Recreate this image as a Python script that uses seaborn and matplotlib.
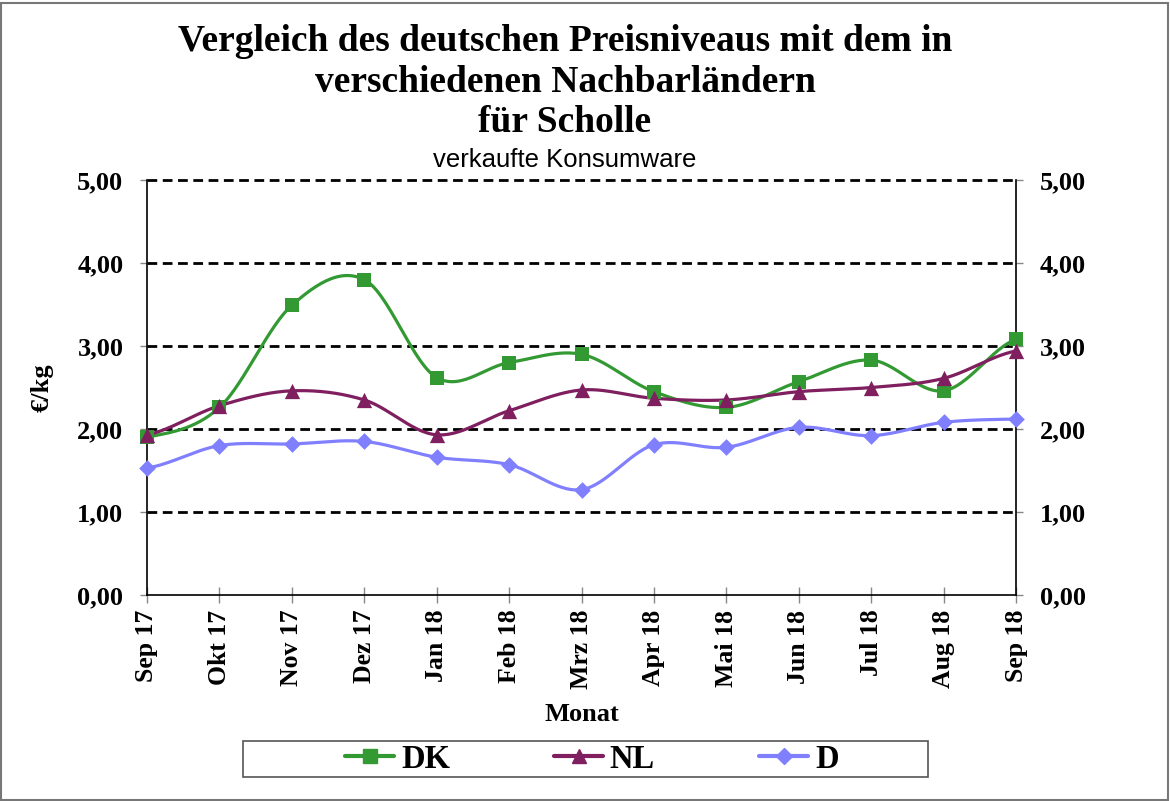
import numpy as np
import pandas as pd
import matplotlib
matplotlib.use("Agg")
import matplotlib.pyplot as plt
from matplotlib.patches import Rectangle
from matplotlib.lines import Line2D
import seaborn as sns

months = ["Sep 17", "Okt 17", "Nov 17", "Dez 17", "Jan 18", "Feb 18", "Mrz 18",
          "Apr 18", "Mai 18", "Jun 18", "Jul 18", "Aug 18", "Sep 18"]
dk = [1.90, 2.26, 3.49, 3.80, 2.62, 2.80, 2.90, 2.45, 2.26, 2.57, 2.83, 2.46, 3.08]
nl = [1.93, 2.28, 2.46, 2.35, 1.93, 2.22, 2.47, 2.37, 2.35, 2.45, 2.50, 2.61, 2.94]
d = [1.53, 1.80, 1.82, 1.85, 1.66, 1.57, 1.27, 1.81, 1.78, 2.02, 1.92, 2.08, 2.12]
yticks = [0, 1, 2, 3, 4, 5]
ytick_labels = ["0,00", "1,00", "2,00", "3,00", "4,00", "5,00"]

series = [("DK", dk, "#339933", "s", 10.5),
          ("NL", nl, "#7F1F5F", "^", 11),
          ("D", d, "#8080FF", "D", 8.5)]

sns.set_theme(style="white")
serif = ["Liberation Serif", "DejaVu Serif"]
plt.rcParams["font.family"] = serif
plt.rcParams["text.color"] = "black"
plt.rcParams["axes.labelcolor"] = "black"
plt.rcParams["xtick.color"] = "black"
plt.rcParams["ytick.color"] = "black"


def smooth(xs, ys, n=30):
    # Catmull-Rom style smoothing (like spreadsheet "smoothed line")
    xs = np.asarray(xs, float)
    ys = np.asarray(ys, float)
    px = np.concatenate([[2 * xs[0] - xs[1]], xs, [2 * xs[-1] - xs[-2]]])
    py = np.concatenate([[ys[0]], ys, [ys[-1]]])
    outx, outy = [], []
    for i in range(1, len(px) - 2):
        p0, p1, p2, p3 = (np.array([px[j], py[j]]) for j in (i - 1, i, i + 1, i + 2))
        c1 = p1 + (p2 - p0) / 6.0
        c2 = p2 - (p3 - p1) / 6.0
        t = np.linspace(0, 1, n, endpoint=(i == len(px) - 3))[:, None]
        b = ((1 - t) ** 3) * p1 + 3 * ((1 - t) ** 2) * t * c1 + 3 * (1 - t) * t ** 2 * c2 + t ** 3 * p2
        outx.extend(b[:, 0]); outy.extend(b[:, 1])
    return np.array(outx), np.array(outy)


fig = plt.figure(figsize=(11.7, 8.01), dpi=100)
W, H = 1170, 801
ax = fig.add_axes([147 / W, 1 - 595 / H, (1016 - 147) / W, (595 - 180) / H])

x = np.arange(len(months))
handles = []
for name, vals, col, mk, ms in series:
    sx, sy = smooth(x, vals)
    sns.lineplot(x=sx, y=sy, ax=ax, color=col, linewidth=2.3, sort=False, estimator=None, zorder=3)
    sns.scatterplot(x=x, y=vals, ax=ax, color=col, marker=mk, s=ms ** 2, edgecolor=col,
                    linewidth=0, zorder=4, clip_on=False)
    handles.append(Line2D([], [], color=col, marker=mk, markersize=ms * 0.9, linewidth=3, label=name))

ax.set_xlim(0, len(months) - 1)
ax.set_ylim(0, 5)
for yv in yticks[1:]:
    ax.axhline(yv, color="black", linestyle=(0, (3.5, 2.0)), linewidth=2, zorder=2, clip_on=False)

ax.set_xticks(x)
ax.set_xticklabels(months, rotation=90, fontsize=18.5, fontweight="bold", family=serif)
ax.set_yticks(yticks)
ax.set_yticklabels(ytick_labels, fontsize=19, fontweight="bold", family=serif)
ax.tick_params(axis="x", length=11, width=1, color="#888888", direction="inout", bottom=True, pad=5,
               labelcolor="black")
ax.tick_params(axis="y", length=5, width=1, color="#888888", direction="out", left=True, right=True,
               labelright=True, pad=12, labelcolor="black")
ax.spines["top"].set_visible(False)
for s in ["left", "right", "bottom"]:
    ax.spines[s].set_color("black")
    ax.spines[s].set_linewidth(1.2)

ax.set_xlabel("Monat", fontsize=19, fontweight="bold", family=serif, labelpad=10)
ax.set_ylabel("€/kg", fontsize=19, fontweight="bold", family=serif, labelpad=17)

fig.text(565 / W, 1 - 82 / H, "Vergleich des deutschen Preisniveaus mit dem in\nverschiedenen Nachbarländern\nfür Scholle",
         ha="center", va="center", fontsize=27, fontweight="bold", family=serif, linespacing=1.2)
fig.text(565 / W, 1 - 160 / H, "verkaufte Konsumware", ha="center", va="center", fontsize=18.5,
         family=["Liberation Sans", "DejaVu Sans"])

# legend box
fig.patches.append(Rectangle((243 / W, 1 - 777 / H), (928 - 243) / W, 36 / H, transform=fig.transFigure,
                             fill=False, edgecolor="#555555", linewidth=1.2))
leg = fig.legend(handles=handles, loc="center", bbox_to_anchor=(592 / W, 1 - 759 / H), ncol=3,
                 frameon=False, prop={"family": serif, "weight": "bold", "size": 23.5},
                 handlelength=1.5, handletextpad=0.2, columnspacing=3.2)

# outer border
fig.patches.append(Rectangle((1 / W, 1 / H), (W - 3) / W, (H - 4) / H, transform=fig.transFigure,
                             fill=False, edgecolor="#777777", linewidth=1.5))

fig.savefig("out.png", dpi=100)
